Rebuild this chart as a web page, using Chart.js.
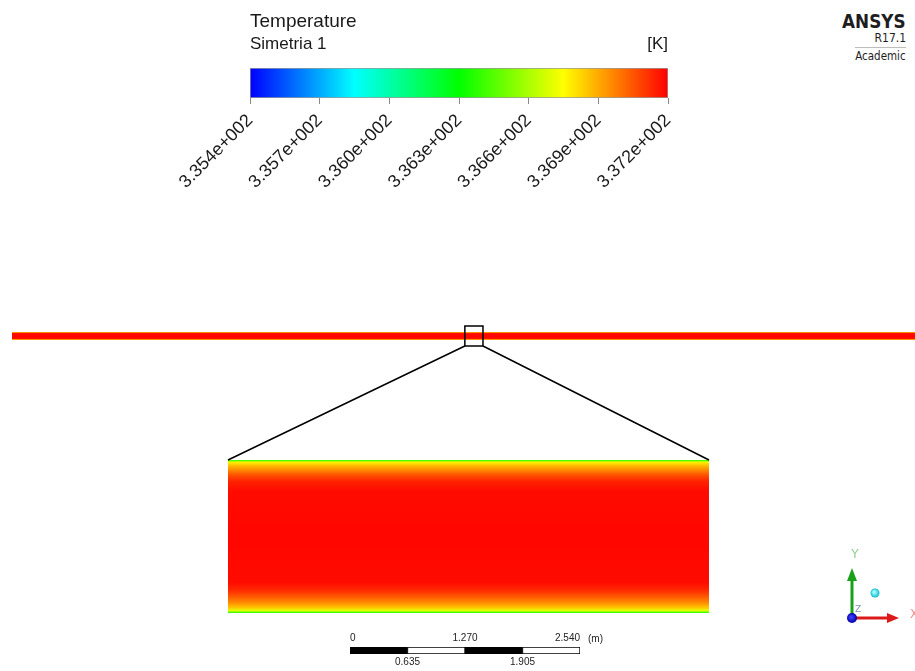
<!DOCTYPE html>
<html>
<head>
<meta charset="utf-8">
<script src="https://cdn.jsdelivr.net/npm/chart.js@4.4.0/dist/chart.umd.min.js"></script>
<style>
  html, body { margin: 0; padding: 0; background: #fff; }
  body { width: 915px; height: 671px; position: relative; overflow: hidden; }
  .box { position: absolute; }
  .logo { position: absolute; right: 9px; line-height: 1; color: #1e1e1e; font-family: "DejaVu Sans", sans-serif; white-space: nowrap; transform-origin: right center; }
</style>
</head>
<body>
<div class="box" style="left:150px;top:0;width:560px;height:215px"><canvas id="legend"></canvas></div>
<div class="box" style="left:0;top:300px;width:915px;height:371px"><canvas id="strip"></canvas></div>
<div class="box" style="left:0;top:300px;width:915px;height:371px"><canvas id="inset"></canvas></div>
<div class="box" style="left:300px;top:625px;width:340px;height:46px"><canvas id="scalebar"></canvas></div>

<div class="logo" style="top:11px;font-size:20px;font-weight:bold;transform:scaleX(0.84)">ANSYS</div>
<div class="logo" style="top:32px;font-size:12px;transform:scaleX(0.9)">R17.1</div>
<div style="position:absolute;left:855px;top:47px;width:51px;height:1px;background:#bdbdbd"></div>
<div class="logo" style="top:50px;font-size:12px;transform:scaleX(0.86)">Academic</div>

<script>
// colour legend (temperature, K)
const tempMin = 335.4;
const tempMax = 337.2;
const tempTicks = [335.4, 335.7, 336.0, 336.3, 336.6, 336.9, 337.2];

// rainbow colour map
const cmapStops = [0, 0.25, 0.5, 0.75, 1];
const cmapColors = [[0, 0, 255], [0, 255, 255], [0, 255, 0], [255, 255, 0], [255, 0, 0]];

// temperature across the channel, top wall (0) to bottom wall (1)
const profilePos  = [0, 0.008, 0.016, 0.04, 0.07, 0.10, 0.14, 0.20, 0.50, 0.80, 0.85, 0.89, 0.93, 0.965, 0.985, 0.994, 1];
const profileTemp = [336.35, 336.58, 336.78, 336.88, 336.97, 337.06, 337.14, 337.18, 337.19, 337.18, 337.13, 337.05, 336.96, 336.85, 336.70, 336.48, 336.35];

// geometry (m)
const domainLength = 10;
const viewLength = 9.97;
const zoomWindow = [5.0, 5.2];

// scale bar (m)
const scaleTicksTop = [0, 1.27, 2.54];
const scaleTicksBottom = [0.635, 1.905];
const scaleSegments = [0.635, 0.635, 0.635, 0.635];

const FONT = '"Liberation Sans", Arial, sans-serif';

function tempColor(T) {
  let t = (T - tempMin) / (tempMax - tempMin);
  t = Math.max(0, Math.min(1, t));
  let i = 0;
  while (i < cmapStops.length - 2 && t > cmapStops[i + 1]) i++;
  const f = (t - cmapStops[i]) / (cmapStops[i + 1] - cmapStops[i]);
  const a = cmapColors[i], b = cmapColors[i + 1];
  const c = a.map((v, k) => Math.round(v + (b[k] - v) * f));
  return 'rgb(' + c.join(',') + ')';
}

function toSci(v) {
  const e = Math.floor(Math.log10(Math.abs(v)));
  const m = v / Math.pow(10, e);
  return m.toFixed(3) + 'e' + (e < 0 ? '-' : '+') + String(Math.abs(e)).padStart(3, '0');
}

function legendGradient(chart) {
  if (!chart.chartArea) return tempColor(tempMin);
  const x = chart.scales.x;
  const g = chart.ctx.createLinearGradient(x.getPixelForValue(tempMin), 0, x.getPixelForValue(tempMax), 0);
  cmapStops.forEach((s, i) => g.addColorStop(s, 'rgb(' + cmapColors[i].join(',') + ')'));
  return g;
}

function profileGradient(chart) {
  const area = chart.chartArea;
  if (!area) return tempColor(tempMax);
  const g = chart.ctx.createLinearGradient(0, area.top, 0, area.bottom);
  profilePos.forEach((p, i) => g.addColorStop(p, tempColor(profileTemp[i])));
  return g;
}

// ---------- colour legend ----------
const legendText = {
  id: 'legendText',
  afterDraw(chart) {
    const { ctx, chartArea: a } = chart;
    ctx.save();
    ctx.fillStyle = '#1a1a1a';
    ctx.textBaseline = 'alphabetic';
    ctx.font = '19px ' + FONT;
    ctx.textAlign = 'left';
    ctx.fillText('Temperature', a.left, a.top - 41);
    ctx.font = '17px ' + FONT;
    ctx.fillText('Simetria 1', a.left, a.top - 19);
    ctx.textAlign = 'right';
    ctx.fillText('[K]', a.right, a.top - 19);
    ctx.restore();
  }
};

new Chart(document.getElementById('legend'), {
  type: 'bar',
  data: {
    labels: [''],
    datasets: [{
      data: [[tempMin, tempMax]],
      backgroundColor: ctx => legendGradient(ctx.chart),
      borderColor: '#9a9a9a',
      borderWidth: 1,
      borderSkipped: false,
      barPercentage: 1,
      categoryPercentage: 1
    }]
  },
  options: {
    indexAxis: 'y',
    responsive: true,
    maintainAspectRatio: false,
    animation: false,
    layout: { padding: { left: 100, right: 42, top: 68, bottom: 0 } },
    plugins: { legend: { display: false }, tooltip: { enabled: false } },
    scales: {
      x: {
        type: 'linear',
        min: tempMin,
        max: tempMax,
        afterBuildTicks: s => { s.ticks = tempTicks.map(v => ({ value: v })); },
        afterFit: s => { s.height = 117; },
        ticks: {
          autoSkip: false, minRotation: 45, maxRotation: 45, padding: 6,
          color: '#1a1a1a', font: { family: FONT, size: 18 },
          callback: v => toSci(v)
        },
        grid: { drawOnChartArea: false, drawTicks: true, tickLength: 6, color: '#8a8a8a' },
        border: { display: false }
      },
      y: { display: false }
    }
  },
  plugins: [legendText]
});

// ---------- full model strip ----------
const stripChart = new Chart(document.getElementById('strip'), {
  type: 'bar',
  data: {
    labels: [''],
    datasets: [{
      data: [[0, domainLength]],
      backgroundColor: ctx => profileGradient(ctx.chart),
      borderWidth: 0,
      barPercentage: 1,
      categoryPercentage: 1
    }]
  },
  options: {
    indexAxis: 'y',
    responsive: true,
    maintainAspectRatio: false,
    animation: false,
    layout: { padding: { left: 12, right: 0, top: 32, bottom: 331 } },
    plugins: { legend: { display: false }, tooltip: { enabled: false } },
    scales: {
      x: { type: 'linear', min: 0, max: viewLength, display: false },
      y: { display: false }
    }
  }
});

// ---------- zoomed inset + annotations ----------
function drawTriad(ctx, ox, oy) {
  ctx.save();
  // X axis (red)
  ctx.strokeStyle = '#dd1a1a'; ctx.fillStyle = '#dd1a1a'; ctx.lineWidth = 3;
  ctx.beginPath(); ctx.moveTo(ox, oy); ctx.lineTo(ox + 36, oy); ctx.stroke();
  ctx.beginPath(); ctx.moveTo(ox + 47, oy); ctx.lineTo(ox + 35, oy - 5); ctx.lineTo(ox + 35, oy + 5); ctx.closePath(); ctx.fill();
  // Y axis (green)
  ctx.strokeStyle = '#1aa01a'; ctx.fillStyle = '#1aa01a';
  ctx.beginPath(); ctx.moveTo(ox, oy); ctx.lineTo(ox, oy - 38); ctx.stroke();
  ctx.beginPath(); ctx.moveTo(ox, oy - 50); ctx.lineTo(ox - 5, oy - 37); ctx.lineTo(ox + 5, oy - 37); ctx.closePath(); ctx.fill();
  // labels
  ctx.font = '12px "DejaVu Sans", sans-serif';
  ctx.textAlign = 'center'; ctx.textBaseline = 'middle';
  ctx.fillStyle = '#8fd08f'; ctx.fillText('Y', ox + 3, oy - 63);
  ctx.fillStyle = '#f09090'; ctx.fillText('X', ox + 62, oy - 3);
  ctx.font = '9px "DejaVu Sans", sans-serif';
  ctx.fillStyle = '#8090b0'; ctx.fillText('Z', ox + 6, oy - 8);
  // origin sphere (blue)
  let g = ctx.createRadialGradient(ox - 1, oy - 1, 1, ox, oy, 5);
  g.addColorStop(0, '#3a3aff'); g.addColorStop(1, '#0000a0');
  ctx.fillStyle = g; ctx.beginPath(); ctx.arc(ox, oy, 5, 0, Math.PI * 2); ctx.fill();
  // rotation centre (cyan)
  g = ctx.createRadialGradient(ox + 22, oy - 26, 1, ox + 23, oy - 25, 4.5);
  g.addColorStop(0, '#a0ffff'); g.addColorStop(1, '#10b8c8');
  ctx.fillStyle = g; ctx.beginPath(); ctx.arc(ox + 23, oy - 25, 4.5, 0, Math.PI * 2); ctx.fill();
  ctx.restore();
}

const zoomAnnotations = {
  id: 'zoomAnnotations',
  afterDraw(chart) {
    const { ctx, chartArea: a } = chart;
    const sx = stripChart.scales.x, sa = stripChart.chartArea;
    const x0 = sx.getPixelForValue(zoomWindow[0]);
    const x1 = sx.getPixelForValue(zoomWindow[1]);
    const mid = (sa.top + sa.bottom) / 2;
    const top = mid - 10, bottom = mid + 10;
    ctx.save();
    ctx.strokeStyle = '#000';
    ctx.lineWidth = 1.5;
    ctx.strokeRect(x0, top, x1 - x0, bottom - top);
    ctx.beginPath();
    ctx.moveTo(x0, bottom); ctx.lineTo(a.left, a.top);
    ctx.moveTo(x1, bottom); ctx.lineTo(a.right, a.top);
    ctx.stroke();
    ctx.restore();
    drawTriad(ctx, chart.width - 63, chart.height - 53);
  }
};

new Chart(document.getElementById('inset'), {
  type: 'bar',
  data: {
    labels: [''],
    datasets: [{
      data: [[zoomWindow[0], zoomWindow[1]]],
      backgroundColor: ctx => profileGradient(ctx.chart),
      borderWidth: 0,
      barPercentage: 1,
      categoryPercentage: 1
    }]
  },
  options: {
    indexAxis: 'y',
    responsive: true,
    maintainAspectRatio: false,
    animation: false,
    layout: { padding: { left: 228, right: 206, top: 160, bottom: 58 } },
    plugins: { legend: { display: false }, tooltip: { enabled: false } },
    scales: {
      x: { type: 'linear', min: zoomWindow[0], max: zoomWindow[1], display: false },
      y: { display: false }
    }
  },
  plugins: [zoomAnnotations]
});

// ---------- scale bar ----------
const unitLabel = {
  id: 'unitLabel',
  afterDraw(chart) {
    const { ctx, chartArea: a } = chart;
    ctx.save();
    ctx.font = '10px ' + FONT;
    ctx.fillStyle = '#222';
    ctx.textAlign = 'left';
    ctx.textBaseline = 'bottom';
    ctx.fillText('(m)', a.right + 8, a.top - 3);
    ctx.restore();
  }
};

new Chart(document.getElementById('scalebar'), {
  type: 'bar',
  data: {
    labels: [''],
    datasets: scaleSegments.map((v, i) => ({
      data: [v],
      backgroundColor: i % 2 ? '#ffffff' : '#000000',
      borderColor: '#000000',
      borderWidth: 1,
      borderSkipped: false,
      barPercentage: 1,
      categoryPercentage: 1,
      xAxisID: 'x'
    }))
  },
  options: {
    indexAxis: 'y',
    responsive: true,
    maintainAspectRatio: false,
    animation: false,
    layout: { padding: { left: 50, right: 60, top: 0, bottom: 0 } },
    plugins: { legend: { display: false }, tooltip: { enabled: false } },
    scales: {
      x: {
        type: 'linear', stacked: true, min: 0, max: 2.54, position: 'bottom',
        afterBuildTicks: s => { s.ticks = scaleTicksBottom.map(v => ({ value: v })); },
        afterFit: s => { s.height = 17; },
        ticks: { autoSkip: false, maxRotation: 0, padding: 2, color: '#222', font: { family: FONT, size: 10 }, callback: v => v.toFixed(3) },
        grid: { display: false, drawTicks: false },
        border: { display: false }
      },
      xTop: {
        type: 'linear', min: 0, max: 2.54, position: 'top',
        afterBuildTicks: s => { s.ticks = scaleTicksTop.map(v => ({ value: v })); },
        afterFit: s => { s.height = 22; },
        ticks: { autoSkip: false, maxRotation: 0, padding: 3, align: 'inner', color: '#222', font: { family: FONT, size: 10 }, callback: v => v === 0 ? '0' : v.toFixed(3) },
        grid: { display: false, drawTicks: false },
        border: { display: false }
      },
      y: { display: false, stacked: true }
    }
  },
  plugins: [unitLabel]
});
</script>
</body>
</html>
